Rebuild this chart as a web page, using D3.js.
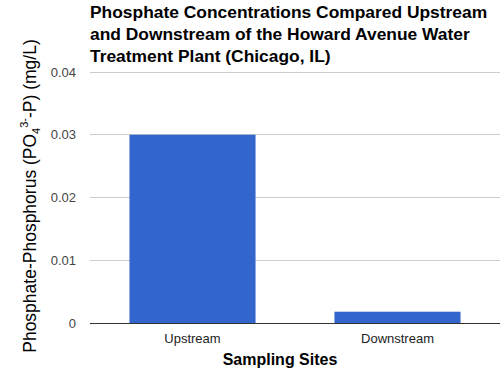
<!DOCTYPE html>
<html>
<head>
<meta charset="utf-8">
<script src="https://cdn.jsdelivr.net/npm/d3@7"></script>
<style>
  body { margin: 0; background: #fff; }
  text { font-family: Arial, "Liberation Sans", sans-serif; }
</style>
</head>
<body>
<svg id="chart"></svg>
<script>
(function() {

const sites = ["Upstream", "Downstream"];
const phosphate = [0.03, 0.0018];
const yTicks = [0, 0.01, 0.02, 0.03, 0.04];
const titleLines = [
  "Phosphate Concentrations Compared Upstream",
  "and Downstream of the Howard Avenue Water",
  "Treatment Plant (Chicago, IL)"
];

const W = 500, H = 382;
const margin = { top: 72, right: 0, bottom: 59, left: 90 };
const width = W - margin.left - margin.right;
const height = H - margin.top - margin.bottom;

const svg = d3.select("#chart")
    .attr("width", W)
    .attr("height", H);

const g = svg.append("g")
    .attr("transform", `translate(${margin.left},${margin.top})`);

const x = d3.scaleBand()
    .domain(sites)
    .range([0, width])
    .paddingInner(0.385)
    .paddingOuter(0.1925);

const y = d3.scaleLinear()
    .domain([0, 0.04])
    .range([height, 0]);

// gridlines
g.append("g")
    .selectAll("line")
    .data(yTicks.filter(d => d > 0))
    .join("line")
    .attr("x1", 0)
    .attr("x2", width)
    .attr("y1", d => y(d))
    .attr("y2", d => y(d))
    .attr("stroke", "#cccccc")
    .attr("stroke-width", 1)
    .attr("shape-rendering", "crispEdges");

// y tick labels
g.append("g")
    .selectAll("text")
    .data(yTicks)
    .join("text")
    .attr("x", -14)
    .attr("y", d => y(d))
    .attr("dy", "0.35em")
    .attr("text-anchor", "end")
    .attr("font-size", 13)
    .attr("fill", "#444")
    .text(d => d === 0 ? "0" : d3.format(".2f")(d));

// bars
g.selectAll("rect.bar")
    .data(sites.map((s, i) => ({ site: s, value: phosphate[i] })))
    .join("rect")
    .attr("class", "bar")
    .attr("x", d => x(d.site))
    .attr("width", x.bandwidth())
    .attr("y", d => y(d.value))
    .attr("height", d => height - y(d.value))
    .attr("fill", "#3366cc");

// baseline
g.append("line")
    .attr("x1", 0)
    .attr("x2", width)
    .attr("y1", y(0))
    .attr("y2", y(0))
    .attr("stroke", "#333")
    .attr("stroke-width", 1)
    .attr("shape-rendering", "crispEdges");

// x labels
g.append("g")
    .selectAll("text")
    .data(sites)
    .join("text")
    .attr("x", d => x(d) + x.bandwidth() / 2)
    .attr("y", height + 20)
    .attr("text-anchor", "middle")
    .attr("font-size", 13)
    .attr("fill", "#222")
    .text(d => d);

// x title
svg.append("text")
    .attr("x", 280)
    .attr("y", 365)
    .attr("text-anchor", "middle")
    .attr("font-size", 16)
    .attr("font-weight", "bold")
    .attr("fill", "#000")
    .text("Sampling Sites");

// y title with sub/superscript
const yt = svg.append("text")
    .attr("transform", "translate(36,196) rotate(-90)")
    .attr("text-anchor", "middle")
    .attr("font-size", 17.5)
    .attr("fill", "#000");
yt.append("tspan").text("Phosphate-Phosphorus (PO");
yt.append("tspan").attr("font-size", 11).attr("dy", 4).text("4");
yt.append("tspan").attr("font-size", 11).attr("dy", -12).text("3-");
yt.append("tspan").attr("dy", 8).text("-P) (mg/L)");

// title
svg.append("text")
    .attr("font-size", 17.4)
    .attr("font-weight", "bold")
    .attr("fill", "#000")
    .selectAll("tspan")
    .data(titleLines)
    .join("tspan")
    .attr("x", 90)
    .attr("y", (d, i) => 18 + i * 21.8)
    .text(d => d);

})();
</script>
</body>
</html>
